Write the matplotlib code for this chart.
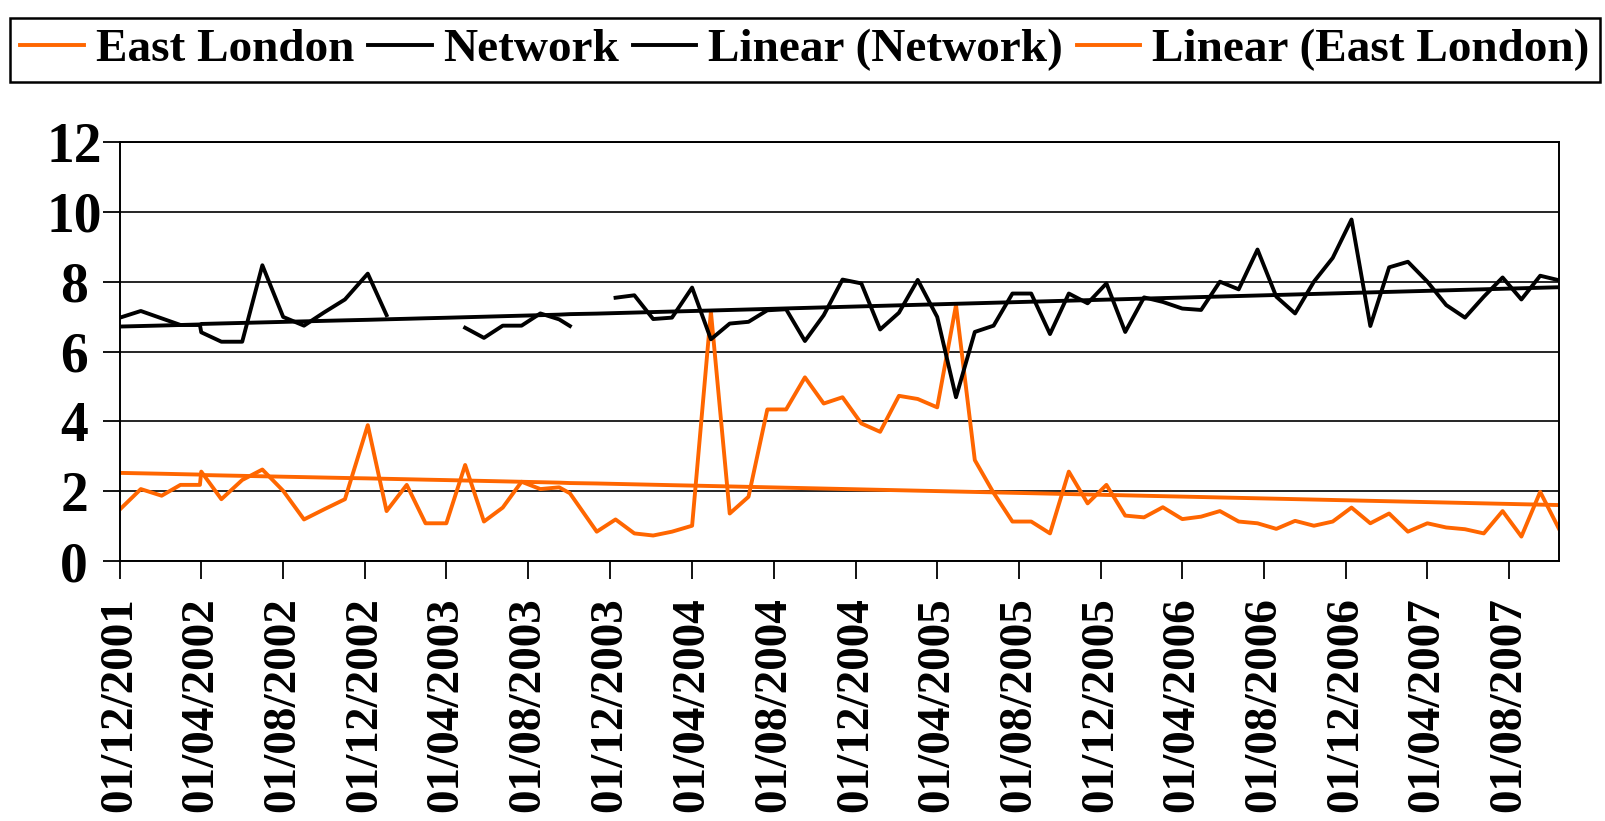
import numpy as np
import pandas as pd
import matplotlib
matplotlib.use('Agg')
import matplotlib.pyplot as plt
import matplotlib.dates as mdates

plt.rcParams['font.family'] = ['Liberation Serif', 'DejaVu Serif']
plt.rcParams['font.weight'] = 'bold'

# period dates (monthly at first, then 4-weekly periods)
dates = ['2001-12-01', '2002-01-01', '2002-02-01', '2002-03-01', '2002-03-30', '2002-04-01',
         '2002-05-01', '2002-06-01', '2002-07-01', '2002-08-01', '2002-09-01', '2002-10-01',
         '2002-11-01', '2002-12-05', '2003-01-02', '2003-02-01', '2003-03-01',
         '2003-04-01', '2003-04-29', '2003-05-27', '2003-06-24', '2003-07-22', '2003-08-19',
         '2003-09-16', '2003-10-02', '2003-11-11', '2003-12-09', '2004-01-06', '2004-02-03',
         '2004-03-02',
         '2004-04-01', '2004-04-29', '2004-05-27', '2004-06-24', '2004-07-22', '2004-08-19',
         '2004-09-16', '2004-10-14', '2004-11-11', '2004-12-09', '2005-01-06', '2005-02-03',
         '2005-03-03',
         '2005-04-01', '2005-04-29', '2005-05-27', '2005-06-24', '2005-07-22', '2005-08-19',
         '2005-09-16', '2005-10-14', '2005-11-11', '2005-12-09', '2006-01-06', '2006-02-03',
         '2006-03-03',
         '2006-04-01', '2006-04-29', '2006-05-27', '2006-06-24', '2006-07-22', '2006-08-19',
         '2006-09-16', '2006-10-14', '2006-11-11', '2006-12-09', '2007-01-06', '2007-02-03',
         '2007-03-03',
         '2007-04-01', '2007-04-29', '2007-05-27', '2007-06-24', '2007-07-22', '2007-08-19',
         '2007-09-16', '2007-10-14']

east_london = [1.48, 2.06, 1.87, 2.18, 2.18, 2.56,
               1.77, 2.32, 2.62, 2.01, 1.19, 1.48,
               1.77, 3.89, 1.43, 2.18, 1.08,
               1.08, 2.75, 1.13, 1.53, 2.27, 2.06,
               2.11, 1.94, 0.84, 1.19, 0.79, 0.73,
               0.84,
               1.01, 7.14, 1.36, 1.84, 4.34, 4.34,
               5.26, 4.51, 4.69, 3.94, 3.70, 4.73,
               4.64,
               4.40, 7.33, 2.89, 1.95, 1.13, 1.13,
               0.79, 2.56, 1.65, 2.18, 1.30, 1.25,
               1.54,
               1.20, 1.27, 1.43, 1.13, 1.08, 0.92,
               1.15, 1.01, 1.13, 1.53, 1.08, 1.36,
               0.84,
               1.08, 0.96, 0.91, 0.79, 1.43, 0.70,
               1.98, 0.92]

network = [6.97, 7.16, 6.95, 6.76, 6.76, 6.55,
           6.28, 6.28, 8.47, 6.99, 6.74, 7.12,
           7.49, 8.23, 7.04, None, None,
           None, 6.68, 6.39, 6.74, 6.74, 7.09,
           6.92, 6.73, None, 7.54, 7.61, 6.93,
           6.97,
           7.83, 6.35, 6.80, 6.85, 7.18, 7.21,
           6.30, 7.04, 8.06, 7.95, 6.63, 7.11,
           8.05,
           6.99, 4.69, 6.56, 6.74, 7.66, 7.66,
           6.50, 7.66, 7.38, 7.95, 6.56, 7.55,
           7.42,
           7.23, 7.19, 8.00, 7.78, 8.92, 7.57,
           7.09, 8.00, 8.68, 9.78, 6.73, 8.41,
           8.57,
           8.00, 7.33, 6.97, 7.57, 8.12, 7.49,
           8.17, 8.04]

x = pd.to_datetime(dates)
el = np.array(east_london, dtype=float)
nw = np.array([np.nan if v is None else v for v in network], dtype=float)

# excel style linear trend on point number
idx = np.arange(1, len(x) + 1)
def trend(y):
    ok = ~np.isnan(y)
    b, a = np.polyfit(idx[ok], y[ok], 1)
    return a + b * idx

orange = '#FF6600'
fig = plt.figure(figsize=(16.06, 8.21), dpi=100)
ax = fig.add_axes([120 / 1606, 1 - 561 / 821, 1439 / 1606, 419 / 821])

l1, = ax.plot(x, el, color=orange, lw=2.8, label='East London')
l2, = ax.plot(x, nw, color='black', lw=2.8, label='Network')
l3, = ax.plot(x, trend(nw), color='black', lw=2.8, label='Linear (Network)')
l4, = ax.plot(x, trend(el), color=orange, lw=2.8, label='Linear (East London)')

ax.set_ylim(0, 12)
ax.set_yticks(range(0, 13, 2))
ax.set_xlim(x[0], x[-1])
ax.xaxis.set_major_locator(mdates.MonthLocator(bymonth=[4, 8, 12], bymonthday=1))
ax.xaxis.set_major_formatter(mdates.DateFormatter('%d/%m/%Y'))
ax.grid(axis='y', color='black', lw=1.2)
ax.set_axisbelow(True)
for s in ax.spines.values():
    s.set_color('black')
    s.set_linewidth(1.4)
ax.tick_params(axis='x', direction='out', length=13, width=1.3, pad=13,
               labelsize=34, labelrotation=90)
ax.tick_params(axis='y', direction='out', length=12, width=1.3, pad=21, labelsize=40)
for t in ax.get_yticklabels():
    t.set_ha('center')

leg = fig.legend(handles=[l1, l2, l3, l4], loc='upper left',
                 bbox_to_anchor=(10 / 1606, 1 - 78 / 821, 1590 / 1606, 60 / 821),
                 mode='expand', ncol=4, prop={'size': 34, 'weight': 'bold'},
                 handlelength=1.35, handletextpad=0.25, columnspacing=0.4,
                 borderpad=0.22, borderaxespad=0, fancybox=False,
                 edgecolor='black', framealpha=1)
leg.get_frame().set_linewidth(1.8)

fig.savefig('out.png', dpi=100)
